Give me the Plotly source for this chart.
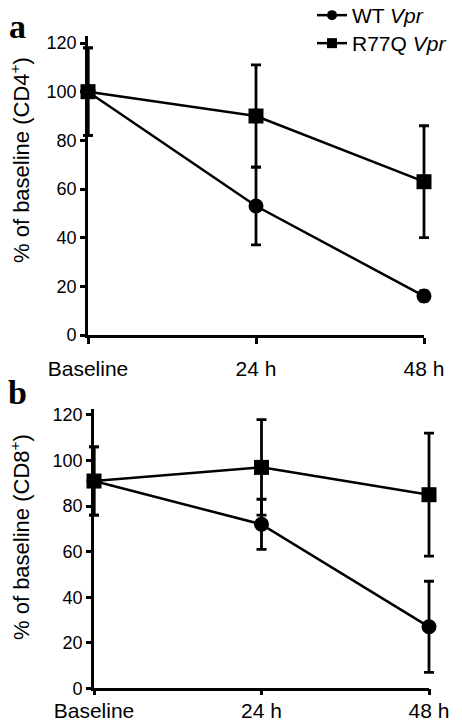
import plotly.graph_objects as go

time_labels = ["Baseline", "24 h", "48 h"]
x_pos = [0, 1, 2]

# Panel a: CD4+
cd4_wt = [100, 53, 16]
cd4_wt_err = [18, 16, 2]
cd4_r77q = [100, 90, 63]
cd4_r77q_err = [18, 21, 23]

# Panel b: CD8+
cd8_wt = [91, 72, 27]
cd8_wt_err = [15, 11, 20]
cd8_r77q = [91, 97, 85]
cd8_r77q_err = [15, 21, 27]

y_ticks = [0, 20, 40, 60, 80, 100, 120]
series_names = ["WT <i>Vpr</i>", "R77Q <i>Vpr</i>"]
y_titles = ["% of baseline (CD4<sup>+</sup>)", "% of baseline (CD8<sup>+</sup>)"]

W, H = 462, 728
FONT = "Liberation Sans, Arial, sans-serif"
PAD = 0.1  # extra data-axis room so edge error bars are not clipped

fig = go.Figure()

def add_series(y, err, symbol, xa, ya):
    fig.add_trace(go.Scatter(
        x=x_pos, y=y, mode="lines+markers",
        line=dict(color="black", width=2.5),
        marker=dict(symbol=symbol, size=15, color="black"),
        error_y=dict(type="data", array=err, visible=True, color="black",
                     thickness=2.8, width=5),
        xaxis=xa, yaxis=ya, showlegend=False, cliponaxis=False,
    ))

add_series(cd4_r77q, cd4_r77q_err, "square", "x", "y")
add_series(cd4_wt, cd4_wt_err, "circle", "x", "y")
add_series(cd8_r77q, cd8_r77q_err, "square", "x2", "y2")
add_series(cd8_wt, cd8_wt_err, "circle", "x2", "y2")

# legend-only entries (smaller symbols, as in the original key)
for name, sym, leg in [(series_names[0], "circle", "legend"), (series_names[1], "square", "legend2")]:
    fig.add_trace(go.Scatter(x=[None], y=[None], mode="lines+markers", name=name,
                             line=dict(color="black", width=2.5),
                             marker=dict(symbol=sym, size=10, color="black"),
                             xaxis="x", yaxis="y", legend=leg, showlegend=True))

# empty traces so the display axes get their subplots
for xa, ya in [("x3", "y"), ("x4", "y2"), ("x5", "y2")]:
    fig.add_trace(go.Scatter(x=[None], y=[None], xaxis=xa, yaxis=ya,
                             showlegend=False, hoverinfo="skip"))

def data_xax(left, right):
    per = (right - left) / 2.0
    return dict(domain=[(left - PAD * per) / W, (right + PAD * per) / W],
                range=[-PAD, 2 + PAD], visible=False, showgrid=False,
                zeroline=False, automargin=False)

def disp_xax(left, right, anchor, ticks="outside", standoff=7, labels=True, line=True):
    return dict(domain=[left / W, right / W], anchor=anchor, range=[0, 2],
                tickvals=x_pos, ticktext=time_labels, showline=line,
                linecolor="black", linewidth=2.8, showticklabels=labels,
                ticks=ticks, ticklen=6, tickwidth=2.5, tickcolor="black",
                showgrid=False, zeroline=False, automargin=False,
                ticklabelstandoff=standoff,
                tickfont=dict(family=FONT, size=21, color="black"))

def yax(bottom, top_px, top_val, anchor):
    return dict(domain=[1 - bottom / H, 1 - top_px / H], anchor=anchor,
                range=[0, top_val], tickvals=y_ticks,
                showline=True, linecolor="black", linewidth=2.8,
                ticks="outside", ticklen=5, tickwidth=2.5, tickcolor="black",
                showgrid=False, zeroline=False, automargin=False,
                ticklabelstandoff=0,
                tickfont=dict(family=FONT, size=18, color="black"))

x5 = disp_xax(94, 429, "y2", ticks="outside", labels=False, line=False)
x5["overlaying"] = "x4"

fig.update_layout(
    width=W, height=H,
    margin=dict(l=0, r=0, t=0, b=0, autoexpand=False),
    paper_bgcolor="white", plot_bgcolor="rgba(0,0,0,0)",
    xaxis=data_xax(88, 424),
    xaxis2=data_xax(94, 429),
    xaxis3=disp_xax(88, 424, "y"),
    xaxis4=disp_xax(94, 429, "y2", ticks="", standoff=2),
    xaxis5=x5,
    yaxis=yax(335, 35.7, 123, "x3"),
    yaxis2=yax(688.3, 409.3, 122.5, "x4"),
    legend=dict(x=312 / W, y=1 + 5 / H, xanchor="left", yanchor="top",
                font=dict(family=FONT, size=21, color="black"),
                bgcolor="rgba(0,0,0,0)"),
    legend2=dict(x=312 / W, y=1 - 23 / H, xanchor="left", yanchor="top",
                 font=dict(family=FONT, size=21, color="black"),
                 bgcolor="rgba(0,0,0,0)"),
)

# y-axis titles (placed as in the original, not centred on the axes)
for title, yy in [(y_titles[0], 160), (y_titles[1], 537)]:
    fig.add_annotation(text=title, x=20 / W, y=1 - yy / H, xref="paper", yref="paper",
                       showarrow=False, textangle=-90, xanchor="center", yanchor="middle",
                       font=dict(family=FONT, size=22, color="black"))

for txt, yy in [("a", 27), ("b", 392)]:
    fig.add_annotation(text="<b>" + txt + "</b>", x=17 / W, y=1 - yy / H,
                       xref="paper", yref="paper", showarrow=False,
                       xanchor="center", yanchor="middle",
                       font=dict(family="Liberation Serif, serif", size=34, color="black"))

fig.write_html("out.html", config={"displayModeBar": False},
               post_script="document.body.style.margin='0';")
